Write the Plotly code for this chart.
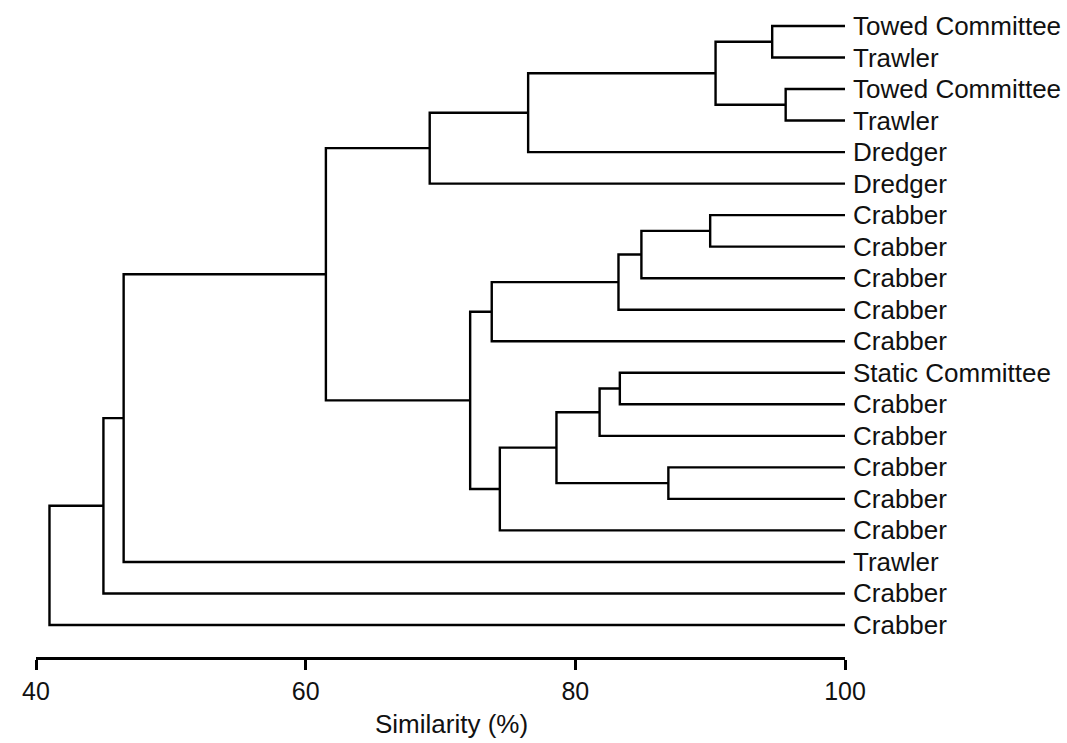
import plotly.graph_objects as go

# Leaf labels, top to bottom
leaf_labels = [
    "Towed Committee", "Trawler", "Towed Committee", "Trawler",
    "Dredger", "Dredger",
    "Crabber", "Crabber", "Crabber", "Crabber", "Crabber",
    "Static Committee", "Crabber", "Crabber", "Crabber", "Crabber", "Crabber",
    "Trawler", "Crabber", "Crabber",
]

# Agglomeration steps: ids 0-19 are leaves, each merge gets the next id (20, 21, ...)
merge_left = [0, 2, 20, 22, 23, 6, 25, 26, 27, 11, 29, 14, 30, 32, 28, 24, 35, 36, 37]
merge_right = [1, 3, 21, 4, 5, 7, 8, 9, 10, 12, 13, 15, 31, 16, 33, 34, 17, 18, 19]
merge_similarity = [94.6, 95.6, 90.4, 76.5, 69.2, 90.0, 84.9, 83.2, 73.8,
                    83.3, 81.8, 86.9, 78.6, 74.4, 72.2, 61.5, 46.5, 45.0, 41.0]

x_ticks = [40, 60, 80, 100]
leaf_similarity = 100.0

# Node positions: leaves sit at 100 % similarity, internal nodes at the merge level,
# vertically centred between their two children
node_x = [leaf_similarity] * len(leaf_labels)
node_y = list(range(len(leaf_labels)))
xs, ys = [], []
for a, b, s in zip(merge_left, merge_right, merge_similarity):
    xs += [node_x[a], s, s, node_x[b], None]
    ys += [node_y[a], node_y[a], node_y[b], node_y[b], None]
    node_x.append(s)
    node_y.append((node_y[a] + node_y[b]) / 2)

fig = go.Figure()
fig.add_trace(go.Scatter(
    x=xs, y=ys, mode="lines",
    line=dict(color="#000000", width=2.4),
    hoverinfo="skip", showlegend=False,
))

font_family = "Liberation Sans, Arial, sans-serif"

for i, lab in enumerate(leaf_labels):
    fig.add_annotation(
        x=leaf_similarity, y=i, xref="x", yref="y",
        text=lab, showarrow=False, xanchor="left", yanchor="middle",
        xshift=6, font=dict(family=font_family, size=26, color="#111111"),
    )

fig.add_annotation(
    x=0.514, y=-0.104, xref="paper", yref="paper",
    text="Similarity (%)", showarrow=False, xanchor="center", yanchor="middle",
    font=dict(family=font_family, size=26, color="#111111"),
)

fig.update_layout(
    width=1067, height=743,
    margin=dict(l=36, r=222, t=10, b=86),
    paper_bgcolor="white", plot_bgcolor="white",
    font=dict(family=font_family, color="#111111"),
    xaxis=dict(
        range=[40, 100], tickvals=x_ticks, ticktext=[str(v) for v in x_ticks],
        showline=True, linecolor="#000000", linewidth=3,
        ticks="outside", ticklen=10, tickwidth=3, tickcolor="#000000",
        showgrid=False, zeroline=False,
        tickfont=dict(family=font_family, size=25, color="#111111"),
    ),
    yaxis=dict(
        range=[20.015, -0.507], showgrid=False, zeroline=False,
        showline=False, showticklabels=False, ticks="",
    ),
)

fig.write_html("out.html")
